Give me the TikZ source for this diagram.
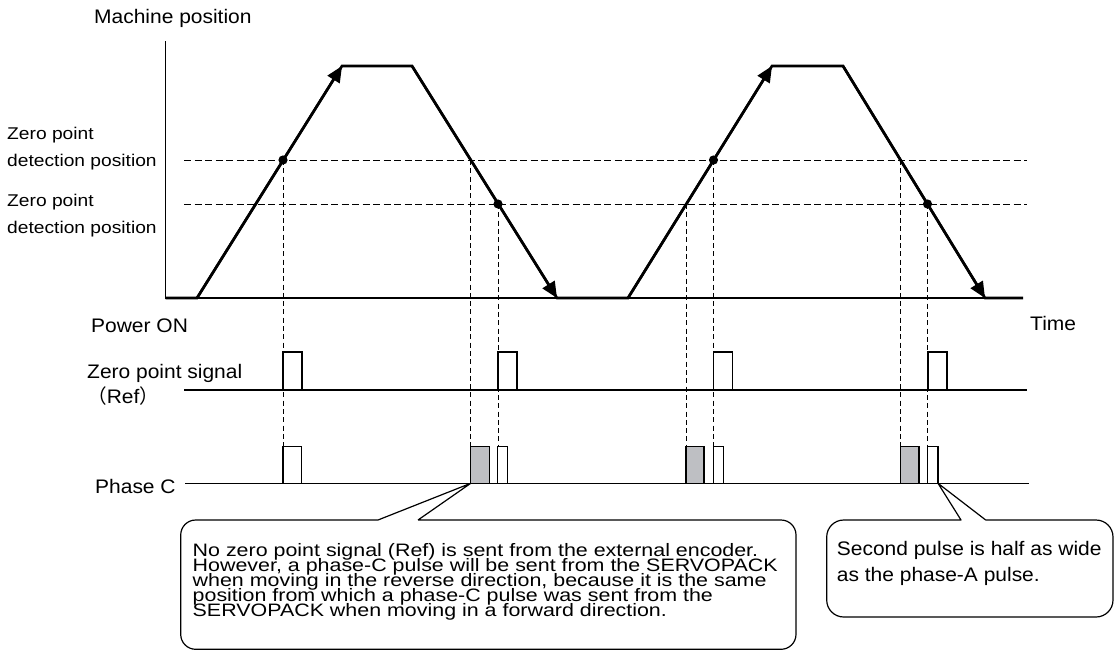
\documentclass[tikz,border=0pt]{standalone}
\usepackage{fontspec}
\setmainfont{Liberation Sans}
\newfontfamily\lblfont[FakeStretch=1.07]{Liberation Sans}
\newfontfamily\zpfont[FakeStretch=1.13]{Liberation Sans}
\newfontfamily\calfont[FakeStretch=1.19]{Liberation Sans}
\newfontfamily\cjkfont{Noto Sans CJK SC}
\usetikzlibrary{arrows.meta}
\definecolor{pulsegray}{RGB}{190,191,195}
\begin{document}
\begin{tikzpicture}[x=1pt,y=-1pt,
  lbl/.style={anchor=base west,inner sep=0pt,font=\lblfont\fontsize{19.6}{22}\selectfont},
  zp/.style={anchor=base west,inner sep=0pt,font=\zpfont\fontsize{17}{20}\selectfont},
  cal/.style={anchor=base west,inner sep=0pt,font=\calfont\fontsize{18}{15}\selectfont},
  motionline/.style={line width=2.6pt,line join=miter},
  motion/.style={line width=2.6pt,-{Triangle[length=16pt,width=14pt]}},
  thinline/.style={line width=1.2pt},
  hdash/.style={line width=1pt,dash pattern=on 7pt off 3.5pt},
  vdash/.style={line width=1pt,dash pattern=on 5pt off 3.3pt},
  pulse/.style={line width=1.2pt,fill=white},
  gpulse/.style={line width=1.2pt,fill=pulsegray},
  callout/.style={line width=1.2pt,line join=round},
  dot/.style={fill=black}
]
\useasboundingbox (0,0) rectangle (1116,651);

% axes
\coordinate (axtop) at (165.7,41);
\coordinate (orig) at (165.7,298);
\coordinate (axend) at (1023,298);
\draw[thinline] (axtop) -- (orig) -- (axend);

% zero point detection levels
\draw[hdash] (184,160) -- (1027,160);
\draw[hdash] (184,204) -- (1027,204);

% vertical projections
\foreach \xx/\yy in {283/160, 470.7/160, 498/204, 686/204, 713.5/160, 900.5/160, 927.5/204}
  \draw[vdash] (\xx,\yy) -- (\xx,446.7);

% signal baselines
\draw[thinline] (184,390) -- (1027,390);
\draw[thinline] (185,483.3) -- (1028.7,483.3);

% machine position profile
\coordinate (p0) at (165.7,298);
\coordinate (p1) at (197,298);
\coordinate (p2) at (342,66);
\coordinate (p3) at (412,66);
\coordinate (p4) at (557,298);
\coordinate (p5) at (628,298);
\coordinate (p6) at (772,66);
\coordinate (p7) at (843,66);
\coordinate (p8) at (985,298);
\coordinate (p9) at (1023,298);
\draw[motionline] (p0) -- (p1) -- (p2) -- (p3) -- (p4) -- (p5) -- (p6) -- (p7) -- (p8) -- (p9);
\draw[motion] (p1) -- (p2);
\draw[motion] (p3) -- (p4);
\draw[motion] (p5) -- (p6);
\draw[motion] (p7) -- (p8);

% detection points
\fill[dot] (283,160) circle[radius=4.6pt];
\fill[dot] (498,204) circle[radius=4.6pt];
\fill[dot] (713.5,160) circle[radius=4.6pt];
\fill[dot] (927.5,204) circle[radius=4.6pt];

% zero point signal (Ref) pulses
\draw[pulse] (283,390) rectangle (302,352);
\draw[pulse] (498,390) rectangle (517,352);
\draw[pulse] (713.3,390) rectangle (732.3,352);
\draw[pulse] (928,390) rectangle (947,352);

% phase C pulses
\draw[pulse] (283,483.3) rectangle (301.5,446.7);
\draw[gpulse] (470.7,483.3) rectangle (489.3,446.7);
\draw[pulse] (497.8,483.3) rectangle (507.8,446.7);
\draw[gpulse] (686,483.3) rectangle (704,446.7);
\draw[pulse] (713.3,483.3) rectangle (723.3,446.7);
\draw[gpulse] (900.5,483.3) rectangle (919,446.7);
\draw[pulse] (927.8,483.3) rectangle (938,446.7);

% labels
\node[lbl] (lmach) at (94,23.3) {Machine position};
\node[zp] (lzp1a) at (7,139.5) {Zero point};
\node[zp] (lzp1b) at (7,166.5) {detection position};
\node[zp] (lzp2a) at (7,206.5) {Zero point};
\node[zp] (lzp2b) at (7,233) {detection position};
\node[lbl] (lpow) at (91,332) {Power ON};
\node[lbl] (ltime) at (1030,330) {Time};
\node[lbl] (lzs) at (87,378) {Zero point signal};
\node[lbl] (lref) at (87,403) {{\cjkfont （}Ref{\cjkfont ）}};
\node[lbl] (lpc) at (95,493) {Phase C};

% callout 1
\coordinate (tip1) at (470.7,483.3);
\draw[callout] (418,520) -- (tip1) -- (378,520) -- (300,520)
  [rounded corners=15pt] -- (180.7,520) -- (180.7,649.3) -- (796,649.3) -- (796,520) -- (600,520)
  [sharp corners] -- (418,520);
\node[cal] (c1a) at (192.5,556) {No zero point signal (Ref) is sent from the external encoder.};
\node[cal] (c1b) at (192.5,571) {However, a phase-C pulse will be sent from the SERVOPACK};
\node[cal] (c1c) at (192.5,586) {when moving in the reverse direction, because it is the same};
\node[cal] (c1d) at (192.5,601) {position from which a phase-C pulse was sent from the};
\node[cal] (c1e) at (192.5,616) {SERVOPACK when moving in a forward direction.};

% callout 2
\coordinate (tip2) at (938,483.3);
\draw[callout] (985.7,520) -- (tip2) -- (961,520) -- (900,520)
  [rounded corners=17pt] -- (826.7,520) -- (826.7,617) -- (1113,617) -- (1113,520) -- (1050,520)
  [sharp corners] -- (985.7,520);
\node[lbl] (c2a) at (836.7,555) {Second pulse is half as wide};
\node[lbl] (c2b) at (836.7,581.7) {as the phase-A pulse.};
\end{tikzpicture}
\end{document}
